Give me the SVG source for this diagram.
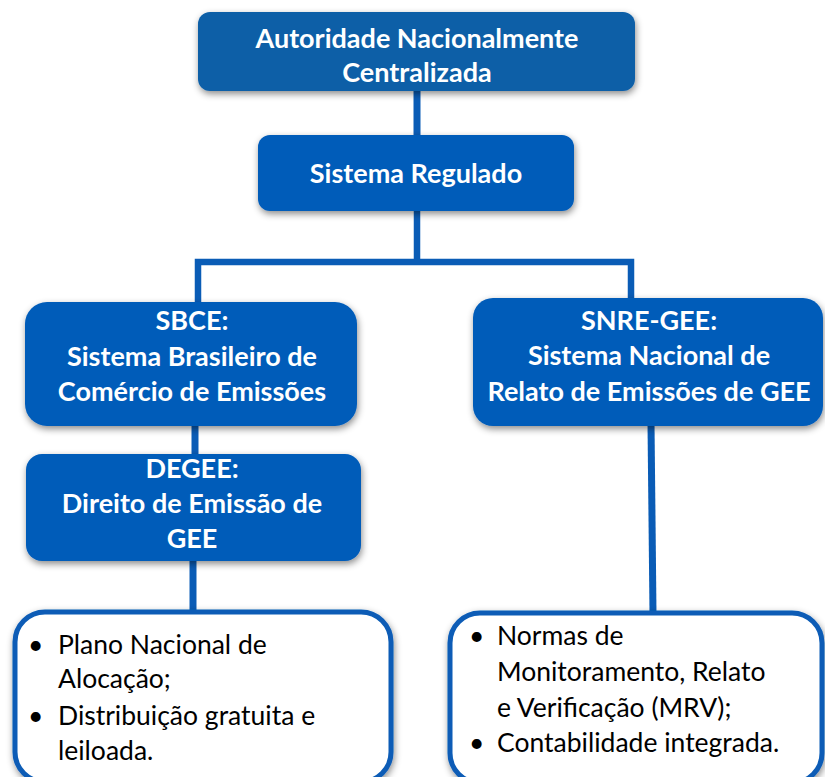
<svg xmlns="http://www.w3.org/2000/svg" width="825" height="777" viewBox="0 0 825 777">
<defs>
<filter id="sh" x="-10%" y="-20%" width="120%" height="150%">
<feDropShadow dx="1" dy="3" stdDeviation="3.5" flood-color="#000" flood-opacity="0.45"/>
</filter>
<style>
.box{fill:#045cb9;filter:url(#sh);}
.top{fill:#0b5fa7;}
.wbox{fill:#fff;stroke:#0a5cb6;stroke-width:5;filter:url(#sh);}
.t{font-family:Lato,"Liberation Sans",sans-serif;font-weight:bold;font-size:27px;fill:#fff;text-anchor:middle;}
.b{font-family:Lato,"Liberation Sans",sans-serif;font-size:26.5px;fill:#000;}
.c{stroke:#0a5cb6;stroke-width:7;fill:none;}
</style>
</defs>
<g id="connectors">
<line class="c" x1="417" y1="88" x2="417" y2="138"/>
<path class="c" d="M417 208 V262 M198 305 V262 H631 V300" style="stroke-width:6.5"/>
<line class="c" x1="195" y1="423" x2="195" y2="457"/>
<line class="c" x1="193" y1="558" x2="193" y2="614"/>
<line class="c" x1="651" y1="423" x2="653" y2="614"/>
</g>
<g id="autoridade">
<rect class="box top" x="198" y="12" width="437" height="79" rx="12"/>
<text class="t" x="417" y="48">Autoridade Nacionalmente</text>
<text class="t" x="417" y="82">Centralizada</text>
</g>
<g id="sistema-regulado">
<rect class="box" x="258" y="135" width="316" height="76" rx="12"/>
<text class="t" x="416" y="183">Sistema Regulado</text>
</g>
<g id="sbce">
<rect class="box" x="25" y="302" width="332" height="124" rx="22"/>
<text class="t" x="192" y="330">SBCE:</text>
<text class="t" x="192" y="366">Sistema Brasileiro de</text>
<text class="t" x="192" y="401">Comércio de Emissões</text>
</g>
<g id="degee">
<rect class="box" x="26" y="454" width="335" height="107" rx="16"/>
<text class="t" x="192" y="478">DEGEE:</text>
<text class="t" x="192" y="513">Direito de Emissão de</text>
<text class="t" x="192" y="548">GEE</text>
</g>
<g id="snre-gee">
<rect class="box" x="473" y="298" width="350" height="128" rx="20"/>
<text class="t" x="649" y="330">SNRE-GEE:</text>
<text class="t" x="649" y="365">Sistema Nacional de</text>
<text class="t" x="649" y="401">Relato de Emissões de GEE</text>
</g>
<g id="lista-sbce">
<rect class="wbox" x="15" y="612" width="376" height="170" rx="30"/>
<text class="b" x="28" y="654">•</text>
<text class="b" x="58" y="654">Plano Nacional de</text>
<text class="b" x="58" y="688">Alocação;</text>
<text class="b" x="28" y="725">•</text>
<text class="b" x="58" y="725">Distribuição gratuita e</text>
<text class="b" x="58" y="760">leiloada.</text>
</g>
<g id="lista-snre">
<rect class="wbox" x="450" y="613" width="372" height="170" rx="30"/>
<text class="b" x="469" y="645">•</text>
<text class="b" x="497" y="645">Normas de</text>
<text class="b" x="497" y="681">Monitoramento, Relato</text>
<text class="b" x="497" y="717">e Verificação (MRV);</text>
<text class="b" x="469" y="752">•</text>
<text class="b" x="497" y="752">Contabilidade integrada.</text>
</g>
</svg>
